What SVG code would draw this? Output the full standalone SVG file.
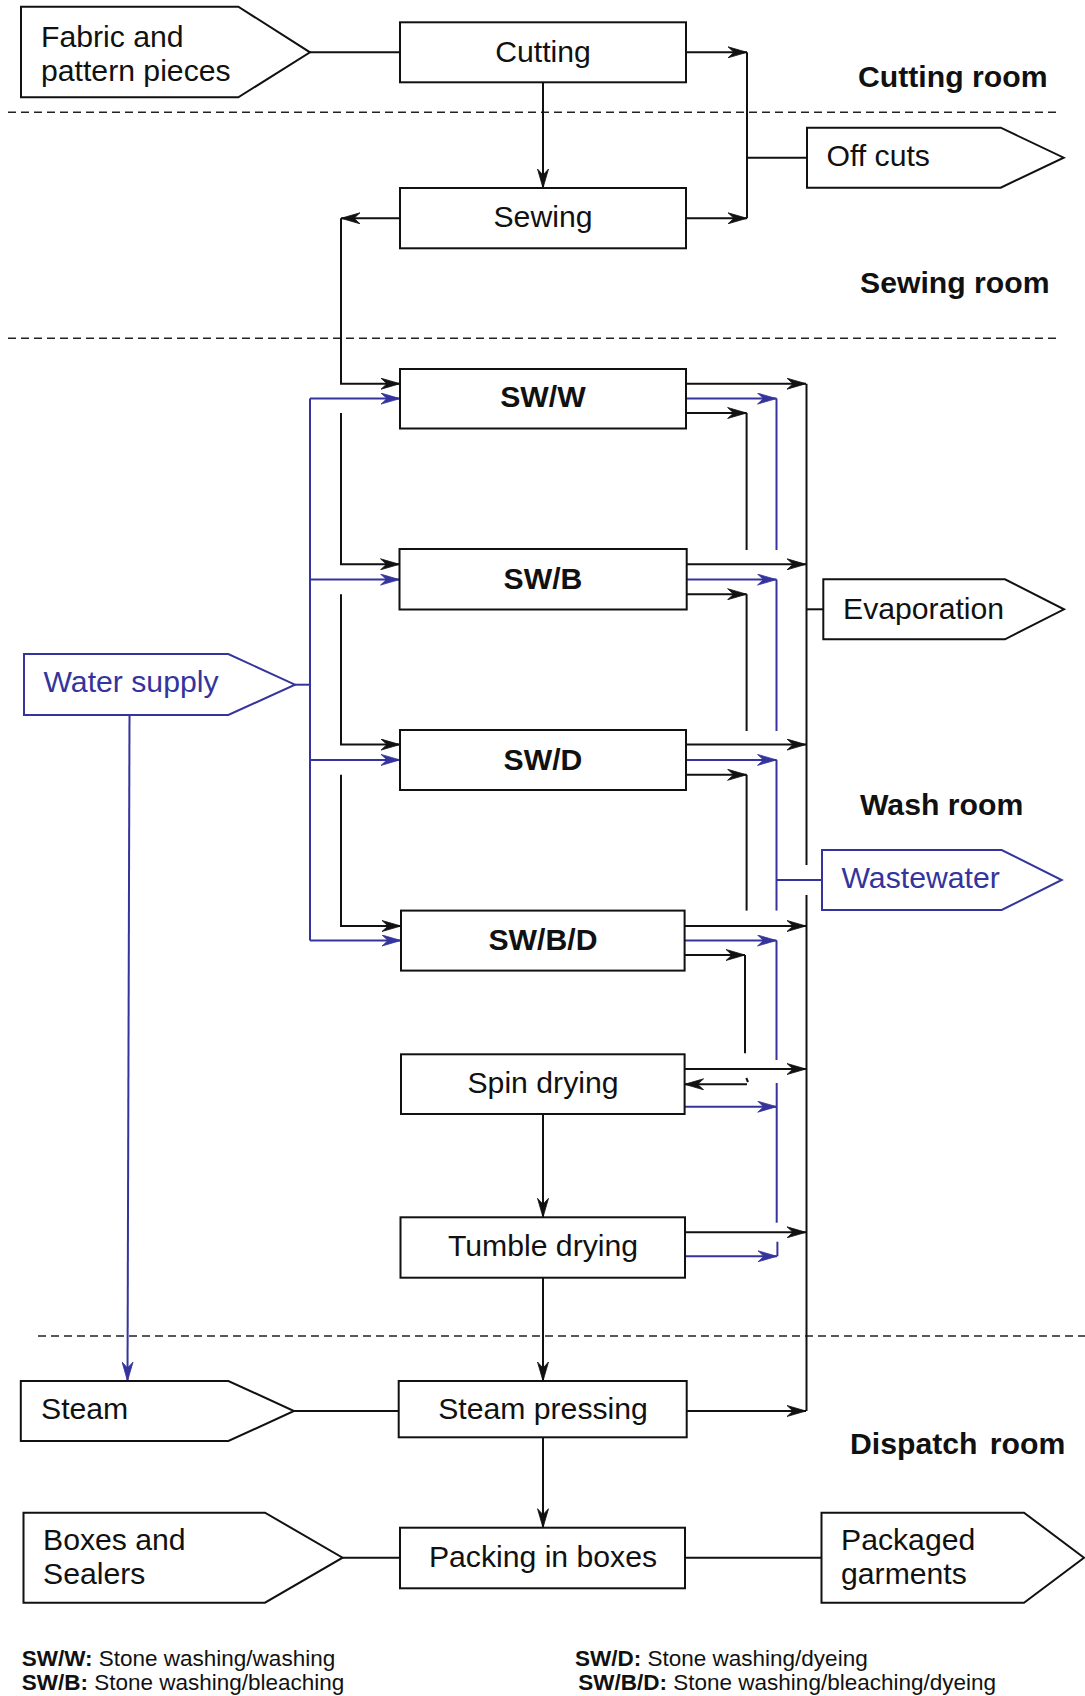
<svg xmlns="http://www.w3.org/2000/svg" width="1085" height="1696" viewBox="0 0 1085 1696">
  <style>
    text { font-family: "Liberation Sans", Arial, Helvetica, sans-serif; }
    .box { fill: #fff; stroke: #111; stroke-width: 2; }
    .tag { fill: #fff; stroke: #111; stroke-width: 2; stroke-linejoin: miter; }
    .tagb { fill: #fff; stroke: #34349c; stroke-width: 2; }
    .lbl { font-size: 30.2px; fill: #111; }
    .lblc { font-size: 30.2px; fill: #111; text-anchor: middle; }
    .bold { font-weight: bold; }
    .blue { fill: #34349c; }
    .room { font-size: 30.2px; font-weight: bold; fill: #111; }
    .leg { font-size: 22.5px; fill: #111; }
    .ln { fill: none; stroke: #111; stroke-width: 2; }
    .lnb { fill: none; stroke: #34349c; stroke-width: 2; }
    .arr { marker-end: url(#ah); }
    .arrb { marker-end: url(#ahb); }
    .dash { fill: none; stroke: #222; stroke-width: 1.6; stroke-dasharray: 8 5; }
  </style>
  <defs>
    <marker id="ah" viewBox="-21 -6 23 12" refX="0" refY="0" markerWidth="23" markerHeight="12" markerUnits="userSpaceOnUse" orient="auto">
      <path d="M0,0 L-19,-5.5 L-13,0 L-19,5.5 Z" fill="#111" stroke="#111" stroke-width="0.8"/>
    </marker>
    <marker id="ahb" viewBox="-21 -6 23 12" refX="0" refY="0" markerWidth="23" markerHeight="12" markerUnits="userSpaceOnUse" orient="auto">
      <path d="M0,0 L-19,-5.5 L-13,0 L-19,5.5 Z" fill="#34349c" stroke="#34349c" stroke-width="0.8"/>
    </marker>
  </defs>

  <rect width="1085" height="1696" fill="#fff"/>

  <!-- room separators -->
  <g id="separators">
    <path class="dash" d="M8,112.3 H1057"/>
    <path class="dash" d="M8,338.3 H1057"/>
    <path class="dash" d="M38,1336 H1085"/>
  </g>

  <!-- room labels -->
  <g id="rooms">
    <text class="room" x="858" y="87">Cutting room</text>
    <text class="room" x="860" y="293">Sewing room</text>
    <text class="room" x="860" y="815">Wash room</text>
    <text class="room" x="850" y="1454" word-spacing="4">Dispatch room</text>
  </g>

  <!-- connectors -->
  <g id="connectors">
    <!-- cutting / sewing -->
    <path class="ln" d="M310,52.3 H400"/>
    <path class="ln arr" d="M686,52.3 H747"/>
    <path class="ln arr" d="M686,218.3 H747"/>
    <path class="ln" d="M747,52.3 V218.3"/>
    <path class="ln" d="M747,157.7 H807"/>
    <path class="ln arr" d="M543,82 V188"/>
    <path class="ln arr" d="M400,218.3 H341"/>
    <path class="ln arr" d="M341,218.3 V383.7 H400"/>

    <!-- garment flow between wash machines -->
    <path class="ln arr" d="M341,413 V564.3 H399.5"/>
    <path class="ln arr" d="M341,594.2 V744.6 H400"/>
    <path class="ln arr" d="M341,774.8 V926 H401"/>

    <!-- evaporation outputs -->
    <path class="ln arr" d="M686,383.7 H806"/>
    <path class="ln arr" d="M686.7,564.3 H806"/>
    <path class="ln arr" d="M686,744.6 H806"/>
    <path class="ln arr" d="M684.6,926 H806"/>
    <path class="ln arr" d="M684.6,1069 H806"/>
    <path class="ln arr" d="M685,1232.3 H806"/>
    <path class="ln arr" d="M687,1411 H806"/>
    <path class="ln" d="M806.5,383.7 V865 M806.5,895 V1411"/>
    <path class="ln" d="M806.5,609.3 H823.3"/>

    <!-- garment drops on the right -->
    <path class="ln arr" d="M686,413 H746.6"/>
    <path class="ln" d="M746.6,413 V550"/>
    <path class="ln arr" d="M686.7,594.2 H746.6"/>
    <path class="ln" d="M746.6,594.2 V731"/>
    <path class="ln arr" d="M686,774.8 H746.6"/>
    <path class="ln" d="M746.6,774.8 V910.6"/>
    <path class="ln arr" d="M684.6,955 H745"/>
    <path class="ln" d="M745,955 V1053.3"/>
    <path class="ln arr" d="M747,1084.3 H684.6"/>
    <path class="ln" d="M746.3,1078 L748,1082" stroke-width="1.5"/>

    <!-- drying and dispatch -->
    <path class="ln arr" d="M543,1114 V1217.3"/>
    <path class="ln arr" d="M543,1277.7 V1381"/>
    <path class="ln" d="M294,1411 H398.7"/>
    <path class="ln arr" d="M543,1437.3 V1527.7"/>
    <path class="ln" d="M342.6,1557.7 H400"/>
    <path class="ln" d="M685,1557.7 H821.5"/>

    <!-- water supply -->
    <path class="lnb" d="M295,684.7 H310"/>
    <path class="lnb" d="M310,398.6 V940.5"/>
    <path class="lnb arrb" d="M310,398.6 H400"/>
    <path class="lnb arrb" d="M310,579.6 H399.5"/>
    <path class="lnb arrb" d="M310,759.9 H400"/>
    <path class="lnb arrb" d="M310,940.5 H401"/>
    <path class="lnb arrb" d="M129.5,715 L127.5,1381"/>

    <!-- wastewater -->
    <path class="lnb arrb" d="M686,398.6 H776.5"/>
    <path class="lnb" d="M776.5,398.6 V550"/>
    <path class="lnb arrb" d="M686.7,579.6 H776.5"/>
    <path class="lnb" d="M776.5,579.6 V731"/>
    <path class="lnb arrb" d="M686,759.9 H776.5"/>
    <path class="lnb" d="M776.5,759.9 V910.6"/>
    <path class="lnb" d="M776.5,880 H822"/>
    <path class="lnb arrb" d="M684.6,940.5 H776.5"/>
    <path class="lnb" d="M776.5,940.5 V1060"/>
    <path class="lnb arrb" d="M684.6,1106.7 H776.7"/>
    <path class="lnb" d="M776.7,1083 V1222.7"/>
    <path class="lnb arrb" d="M685,1256.3 H777"/>
    <path class="lnb" d="M777.4,1241.7 V1256.3"/>
  </g>

  <!-- inputs and outputs -->
  <g id="fabric">
    <polygon class="tag" points="21,6.7 238.3,6.7 310,52.3 238.3,97.3 21,97.3"/>
    <text class="lbl" x="41" y="46.5">Fabric and</text>
    <text class="lbl" x="41" y="80.5">pattern pieces</text>
  </g>
  <g id="offcuts">
    <polygon class="tag" points="807,127.7 1000.7,127.7 1063.7,157.7 1000.7,187.7 807,187.7"/>
    <text class="lbl" x="826.5" y="166">Off cuts</text>
  </g>
  <g id="water-supply">
    <polygon class="tagb" points="24,654 228.3,654 295,684.7 228.3,715 24,715"/>
    <text class="lbl blue" x="43.5" y="692">Water supply</text>
  </g>
  <g id="evaporation">
    <polygon class="tag" points="823.3,579.3 1005,579.3 1064,609.3 1005,639.3 823.3,639.3"/>
    <text class="lbl" x="843" y="618.5">Evaporation</text>
  </g>
  <g id="wastewater">
    <polygon class="tagb" points="822,850 1001.7,850 1061.7,880 1001.7,910 822,910"/>
    <text class="lbl blue" x="841.5" y="888">Wastewater</text>
  </g>
  <g id="steam">
    <polygon class="tag" points="20.8,1381 228.4,1381 294,1411 228.4,1441 20.8,1441"/>
    <text class="lbl" x="41" y="1419">Steam</text>
  </g>
  <g id="boxes-sealers">
    <polygon class="tag" points="23.5,1512.7 265,1512.7 342.6,1557.7 265,1602.7 23.5,1602.7"/>
    <text class="lbl" x="43" y="1550">Boxes and</text>
    <text class="lbl" x="43" y="1584">Sealers</text>
  </g>
  <g id="packaged">
    <polygon class="tag" points="821.5,1512.7 1024,1512.7 1084,1557.7 1024,1602.7 821.5,1602.7"/>
    <text class="lbl" x="841" y="1550">Packaged</text>
    <text class="lbl" x="841" y="1584">garments</text>
  </g>

  <!-- process steps -->
  <g id="cutting">
    <rect class="box" x="400" y="22.3" width="286" height="60"/>
    <text class="lblc" x="543" y="61.5">Cutting</text>
  </g>
  <g id="sewing">
    <rect class="box" x="400" y="188" width="286" height="60.3"/>
    <text class="lblc" x="543" y="227">Sewing</text>
  </g>
  <g id="sw-w">
    <rect class="box" x="400" y="369" width="286" height="59.5"/>
    <text class="lblc bold" x="543" y="407">SW/W</text>
  </g>
  <g id="sw-b">
    <rect class="box" x="399.5" y="549" width="287.2" height="60.5"/>
    <text class="lblc bold" x="543" y="588.5">SW/B</text>
  </g>
  <g id="sw-d">
    <rect class="box" x="400" y="730" width="286" height="60"/>
    <text class="lblc bold" x="543" y="769.5">SW/D</text>
  </g>
  <g id="sw-b-d">
    <rect class="box" x="401" y="910.6" width="283.6" height="60"/>
    <text class="lblc bold" x="543" y="950">SW/B/D</text>
  </g>
  <g id="spin-drying">
    <rect class="box" x="401" y="1054.3" width="283.6" height="59.7"/>
    <text class="lblc" x="543" y="1092.5">Spin drying</text>
  </g>
  <g id="tumble-drying">
    <rect class="box" x="400.5" y="1217.3" width="284.5" height="60.4"/>
    <text class="lblc" x="543" y="1256">Tumble drying</text>
  </g>
  <g id="steam-pressing">
    <rect class="box" x="398.7" y="1381" width="288" height="56.3"/>
    <text class="lblc" x="543" y="1418.5">Steam pressing</text>
  </g>
  <g id="packing">
    <rect class="box" x="400" y="1527.7" width="285" height="60.6"/>
    <text class="lblc" x="543" y="1566.5">Packing in boxes</text>
  </g>

  <!-- abbreviations -->
  <g id="legend">
    <text class="leg" x="21.7" y="1666"><tspan class="bold">SW/W:</tspan> Stone washing/washing</text>
    <text class="leg" x="21.7" y="1690"><tspan class="bold">SW/B:</tspan> Stone washing/bleaching</text>
    <text class="leg" x="575" y="1666"><tspan class="bold">SW/D:</tspan> Stone washing/dyeing</text>
    <text class="leg" x="578.3" y="1690"><tspan class="bold">SW/B/D:</tspan> Stone washing/bleaching/dyeing</text>
  </g>
</svg>
